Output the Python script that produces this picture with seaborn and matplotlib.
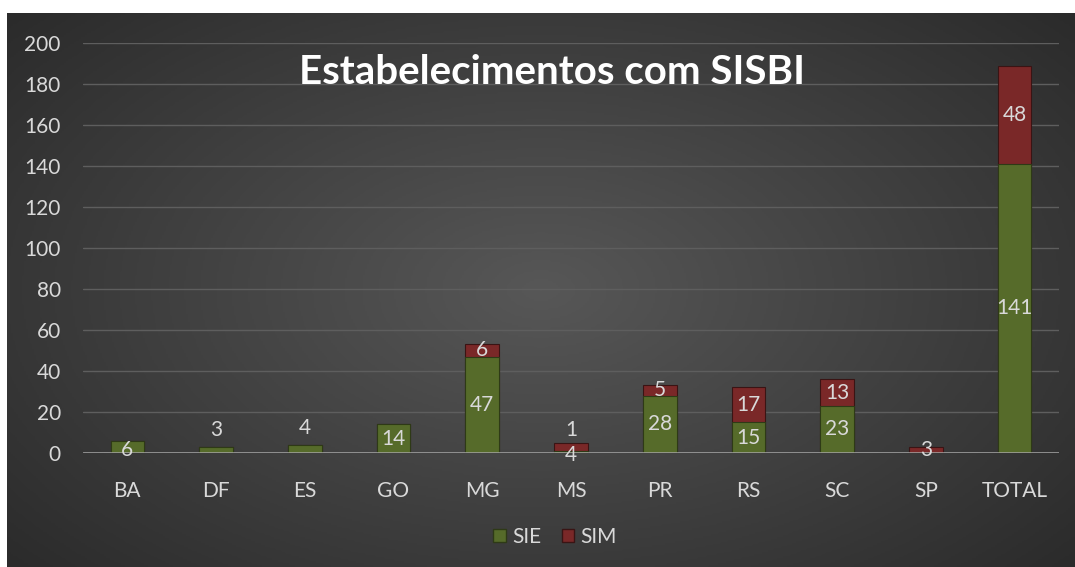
import numpy as np
import pandas as pd
import matplotlib
matplotlib.use("Agg")
import matplotlib.pyplot as plt
import seaborn as sns

# data
states = ["BA", "DF", "ES", "GO", "MG", "MS", "PR", "RS", "SC", "SP", "TOTAL"]
sie = [6, 3, 4, 14, 47, 1, 28, 15, 23, 0, 141]
sim = [0, 0, 0, 0, 6, 4, 5, 17, 13, 3, 48]

df = pd.DataFrame({"estado": states, "SIE": sie, "SIM": sim})
df["total"] = df["SIE"] + df["SIM"]

sns.set_style("dark")
plt.rcParams["font.family"] = ["Lato", "DejaVu Sans"]

txt = "#d9d9d9"
green = "#566b2a"
red = "#7a2828"

fig = plt.figure(figsize=(10.75, 5.67), dpi=100)
fig.patch.set_facecolor("white")

# dark radial gradient panel behind the chart
bg = fig.add_axes([7 / 1075, 0, 1 - 7 / 1075, 1 - 13 / 567])
yy, xx = np.mgrid[-1:1:300j, -1:1:560j]
r = np.sqrt((xx * 0.9) ** 2 + (yy * 0.8) ** 2)
bg.imshow(np.clip(r, 0, 1.2), cmap=sns.dark_palette("#575757", as_cmap=True, reverse=True),
          aspect="auto", extent=[0, 1, 0, 1], vmin=0, vmax=1.35)
bg.set_axis_off()

ax = fig.add_axes([83 / 1075, (567 - 453) / 567, (1059 - 83) / 1075, 410 / 567])
ax.patch.set_alpha(0)

# stacked: totals in red, SIE drawn over them in green
sns.barplot(data=df, x="estado", y="total", color=red, width=0.38, ax=ax,
            saturation=1, edgecolor="#3a1414", linewidth=0.8)
sns.barplot(data=df, x="estado", y="SIE", color=green, width=0.38, ax=ax,
            saturation=1, edgecolor="#2e3a16", linewidth=0.8)

ax.set_ylim(0, 200)
ax.set_yticks(range(0, 201, 20))
ax.set_xlim(-0.5, len(states) - 0.5)
ax.grid(axis="y", color="#5e5e5e", linewidth=1)
ax.grid(axis="x", visible=False)
ax.axhline(0, color="#a6a6a6", linewidth=1.8, zorder=3)
for s in ax.spines.values():
    s.set_visible(False)
ax.tick_params(axis="both", colors=txt, labelsize=15, length=0)
ax.tick_params(axis="y", pad=16)
ax.tick_params(axis="x", pad=20)
ax.set_xlabel("")
ax.set_ylabel("")

# value labels, centred in each segment (small ones shifted like the original)
moved = {("DF", "SIE"): 11, ("ES", "SIE"): 12, ("BA", "SIE"): 1.5,
         ("MS", "SIE"): 11, ("MS", "SIM"): -1}
for i, row in df.iterrows():
    for serie, base in (("SIE", 0), ("SIM", row["SIE"])):
        v = row[serie]
        if v == 0:
            continue
        y = moved.get((row["estado"], serie), base + v / 2)
        ax.text(i, y, str(v), ha="center", va="center", color=txt, fontsize=15, zorder=5)

fig.text(552 / 1075, 1 - 72 / 567, "Estabelecimentos com SISBI", ha="center", va="center",
         color="white", fontsize=29, fontweight="bold")

handles = [plt.Rectangle((0, 0), 1, 1, facecolor=green, edgecolor="#2e3a16"),
           plt.Rectangle((0, 0), 1, 1, facecolor=red, edgecolor="#3a1414")]
leg = fig.legend(handles, ["SIE", "SIM"], loc="center", bbox_to_anchor=(555 / 1075, 1 - 537 / 567),
                 ncol=2, frameon=False, fontsize=15, handlelength=0.6, handleheight=0.6,
                 handletextpad=0.3, columnspacing=1.0)
for t in leg.get_texts():
    t.set_color(txt)

fig.savefig("out.png", dpi=100, facecolor=fig.get_facecolor())
